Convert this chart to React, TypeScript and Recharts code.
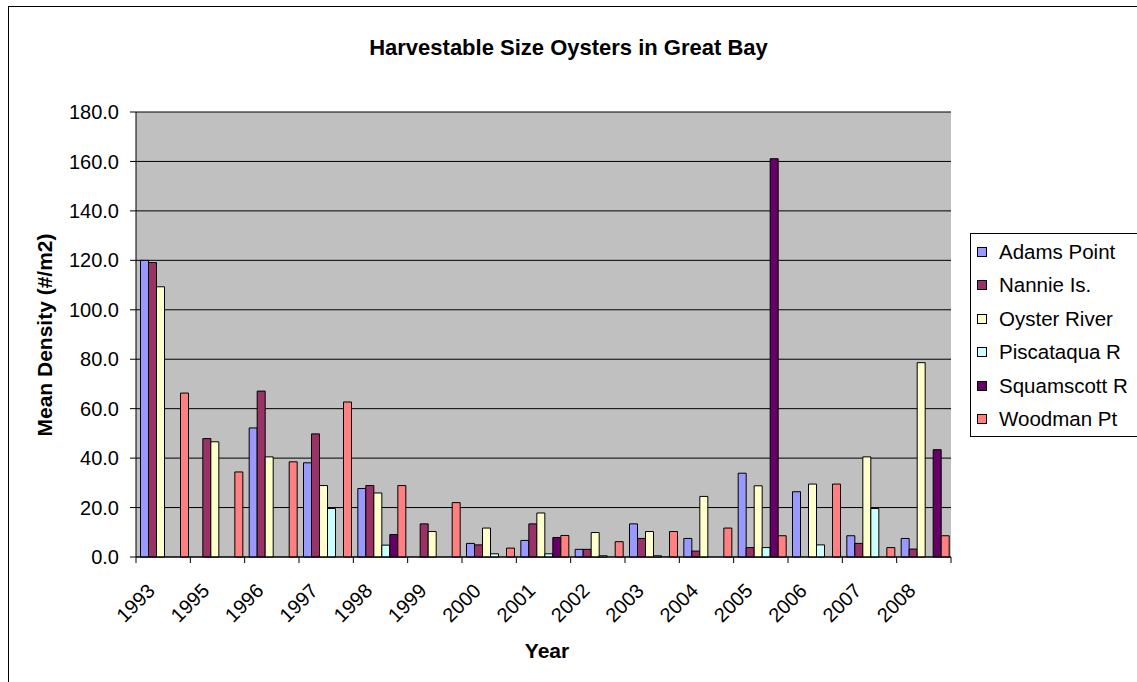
import { BarChart, Bar, XAxis, YAxis, CartesianGrid } from "recharts"

const years = ["1993", "1995", "1996", "1997", "1998", "1999", "2000", "2001", "2002", "2003", "2004", "2005", "2006", "2007", "2008"]

const adamsPoint = [120.0, null, 52.2, 38.1, 27.7, null, 5.5, 6.7, 3.1, 13.4, 7.5, 33.9, 26.4, 8.6, 7.5]
const nannieIs = [119.1, 47.9, 67.1, 49.8, 28.9, 13.4, 4.9, 13.4, 3.1, 7.5, 2.4, 3.8, null, 5.5, 3.2]
const oysterRiver = [109.3, 46.6, 40.5, 28.9, 25.9, 10.3, 11.7, 17.8, 9.9, 10.3, 24.5, 28.8, 29.5, 40.5, 78.6]
const piscataquaR = [null, null, null, 19.6, 4.8, null, 1.3, 1.3, 0.5, 0.5, null, 3.8, 4.9, 19.6, null]
const squamscottR = [null, null, null, null, 9.1, null, null, 7.9, null, null, null, 161.1, null, null, 43.4]
const woodmanPt = [66.3, 34.4, 38.5, 62.7, 28.9, 22.0, 3.6, 8.7, 6.2, 10.3, 11.7, 8.6, 29.5, 3.8, 8.6]

const yTicks = [0, 20, 40, 60, 80, 100, 120, 140, 160, 180]

const series = [
  { key: "adams", name: "Adams Point", color: "#9999FF", values: adamsPoint },
  { key: "nannie", name: "Nannie Is.", color: "#993366", values: nannieIs },
  { key: "oyster", name: "Oyster River", color: "#FFFFCC", values: oysterRiver },
  { key: "pisc", name: "Piscataqua R", color: "#CCFFFF", values: piscataquaR },
  { key: "squam", name: "Squamscott R", color: "#660066", values: squamscottR },
  { key: "woodman", name: "Woodman Pt", color: "#FF8080", values: woodmanPt },
]

const data = years.map((year, i) => {
  const row: Record<string, string | number | null> = { year }
  series.forEach((s) => { row[s.key] = s.values[i] })
  return row
})

const W = 1137
const H = 682
const PLOT_LEFT = 136
const PLOT_RIGHT = 951
const PLOT_TOP = 112
const PLOT_BOTTOM = 557
const Y_AXIS_W = 70
const X_AXIS_H = 90
const BAND = (PLOT_RIGHT - PLOT_LEFT) / years.length

const font = "'Liberation Sans', Arial, Helvetica, sans-serif"

function YearTick(props: any) {
  const { x, y, payload, index } = props
  const axisY = y - 5
  const lx = x - 7
  const ly = axisY + 35
  return (
    <g>
      <line x1={x - BAND / 2} x2={x - BAND / 2} y1={axisY} y2={axisY + 6} stroke="#000" />
      {index === years.length - 1 && (
        <line x1={x + BAND / 2} x2={x + BAND / 2} y1={axisY} y2={axisY + 6} stroke="#000" />
      )}
      <text x={lx} y={ly} textAnchor="end" fontSize={20} fill="#000" transform={`rotate(-45, ${lx}, ${ly})`}>
        {payload.value}
      </text>
    </g>
  )
}

export default function App() {
  return (
    <div style={{ position: "absolute", left: 0, top: 0, width: W, height: H, overflow: "hidden", background: "#fff", fontFamily: font }}>
      <div style={{ position: "absolute", left: 8, top: 6, width: 1300, height: 900, border: "1px solid #000" }} />

      <div style={{ position: "absolute", left: 0, width: W, top: 34, textAlign: "center", fontSize: 22, fontWeight: "bold", lineHeight: "28px" }}>
        Harvestable Size Oysters in Great Bay
      </div>

      <div style={{ position: "absolute", left: 45, top: 335, transform: "translate(-50%, -50%) rotate(-90deg)", whiteSpace: "nowrap", fontSize: 21, fontWeight: "bold" }}>
        Mean Density (#/m2)
      </div>

      <div style={{ position: "absolute", left: 547, top: 651, transform: "translate(-50%, -50%)", fontSize: 21, fontWeight: "bold" }}>
        Year
      </div>

      <div style={{ position: "absolute", left: 0, top: 0 }}>
        <BarChart
          width={W}
          height={H}
          data={data}
          margin={{ left: PLOT_LEFT - Y_AXIS_W, right: W - PLOT_RIGHT, top: PLOT_TOP, bottom: H - PLOT_BOTTOM - X_AXIS_H }}
          barCategoryGap="8.3%"
          barGap={0}
        >
          <CartesianGrid vertical={false} stroke="#000" fill="#C0C0C0" fillOpacity={1} />
          <XAxis
            dataKey="year"
            height={X_AXIS_H}
            interval={0}
            tickLine={false}
            tickSize={5}
            tickMargin={0}
            axisLine={{ stroke: "#000" }}
            tick={<YearTick />}
          />
          <XAxis xAxisId="top" dataKey="year" orientation="top" height={0} tick={false} tickLine={false} axisLine={{ stroke: "#808080" }} />
          <YAxis
            domain={[0, 180]}
            ticks={yTicks}
            width={Y_AXIS_W}
            tickFormatter={(v: number) => v.toFixed(1)}
            tick={{ fill: "#000", fontSize: 20 }}
            tickSize={6}
            tickMargin={11}
            tickLine={{ stroke: "#000" }}
            axisLine={{ stroke: "#000" }}
          />
          <YAxis yAxisId="right" orientation="right" width={0} domain={[0, 180]} tick={false} tickLine={false} axisLine={{ stroke: "#808080" }} />
          {series.map((s) => (
            <Bar
              key={s.key}
              dataKey={s.key}
              name={s.name}
              fill={s.color}
              stroke="#000"
              strokeWidth={1}
              isAnimationActive={false}
            />
          ))}
        </BarChart>
      </div>

      <div style={{ position: "absolute", left: 970, top: 233, width: 180, height: 202, border: "1px solid #000", background: "#fff" }}>
        {series.map((s, i) => (
          <div key={s.key} style={{ position: "absolute", left: 6, top: 18 + i * 33.4 - 12, height: 24, display: "flex", alignItems: "center", whiteSpace: "nowrap" }}>
            <span style={{ display: "inline-block", width: 8, height: 8, background: s.color, border: "1px solid #000", marginRight: 12 }} />
            <span style={{ fontSize: 20.5 }}>{s.name}</span>
          </div>
        ))}
      </div>
    </div>
  )
}
